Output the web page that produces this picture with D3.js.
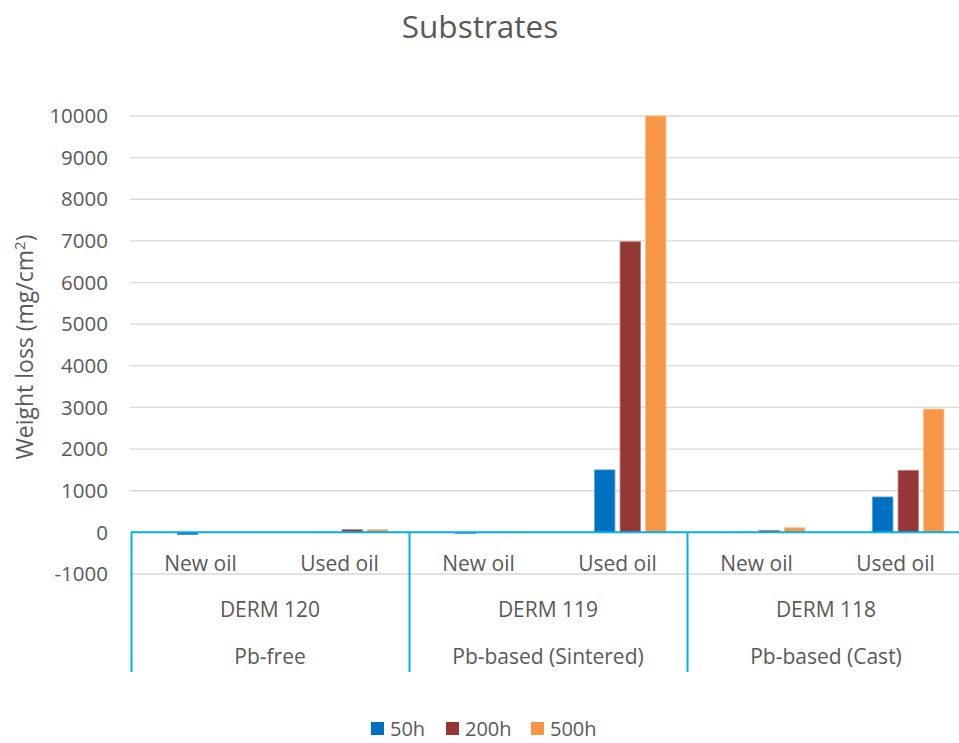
<!DOCTYPE html>
<html>
<head>
<meta charset="utf-8">
<script src="https://cdn.jsdelivr.net/npm/d3@7"></script>
<style>
  html, body { margin: 0; padding: 0; background: #fff; }
  svg { display: block; font-family: "Open Sans", "Segoe UI", sans-serif; }
</style>
</head>
<body>
<svg id="chart" width="959" height="743"></svg>
<script>
// Three-level category axis: material / sample / oil condition
const materials = ["Pb-free", "Pb-based (Sintered)", "Pb-based (Cast)"];
const samples = ["DERM 120", "DERM 119", "DERM 118"];
const oils = ["New oil", "Used oil"];

// Exposure series (weight loss, mg/cm²), one value per sample × oil
const seriesNames = ["50h", "200h", "500h"];
const values50h  = [-55, 5, -30, 1500, 5, 850];
const values200h = [5, 65, 5, 6980, 45, 1490];
const values500h = [5, 65, 25, 10000, 110, 2960];

const yTicks = [-1000, 0, 1000, 2000, 3000, 4000, 5000, 6000, 7000, 8000, 9000, 10000];
const colors = ["#0070C0", "#953735", "#F79646"];
const edgeColors = ["#5a9fd6", "#c07a78", "#fbc08c"];

const svg = d3.select("#chart");
const textColor = "#595959";
const axisBlue = "#00B0F0";

// flat leaf list of (sample, oil)
const leaves = [];
samples.forEach((s, i) => oils.forEach(o => leaves.push({ key: s + "|" + o, sample: s, oil: o, material: materials[i] })));

const seriesValues = [values50h, values200h, values500h];

const left = 131, right = 965;
const x0 = d3.scaleBand().domain(leaves.map(d => d.key)).range([left, right]);
const xGroup = d3.scaleBand().domain(samples).range([left, right]);
// cluster slots: an empty leading slot followed by the three series
const slots = ["_", ...seriesNames];
const cw = x0.bandwidth();
const x1 = d3.scaleBand().domain(slots).range([cw * 0.133, cw * 0.867]).paddingInner(0.2).paddingOuter(0.1);

const y = d3.scaleLinear().domain([-1000, 10000]).range([574, 116]);

// gridlines
svg.append("g").selectAll("line").data(yTicks).join("line")
  .attr("x1", left - 1).attr("x2", right)
  .attr("y1", d => y(d)).attr("y2", d => y(d))
  .attr("stroke", "#d9d9d9").attr("stroke-width", 1.3);

// y tick labels
svg.append("g").selectAll("text").data(yTicks).join("text")
  .attr("x", 108).attr("y", d => y(d)).attr("dy", "0.35em")
  .attr("text-anchor", "end").attr("fill", textColor)
  .attr("font-size", 20.5).text(d => d);

// bars
const barData = [];
seriesNames.forEach((name, si) => {
  leaves.forEach((leaf, li) => barData.push({ leaf, name, si, v: seriesValues[si][li] }));
});
svg.append("g").selectAll("rect").data(barData).join("rect")
  .attr("x", d => x0(d.leaf.key) + x1(d.name))
  .attr("width", x1.bandwidth())
  .attr("y", d => y(Math.max(0, d.v)))
  .attr("height", d => Math.abs(y(d.v) - y(0)))
  .attr("fill", d => colors[d.si])
  .attr("stroke", d => edgeColors[d.si]).attr("stroke-width", 0.8);

// category axis: baseline and separators
const axisG = svg.append("g").attr("stroke", axisBlue).attr("stroke-width", 2);
axisG.append("line").attr("x1", left).attr("x2", right).attr("y1", y(0)).attr("y2", y(0));
const sepXs = samples.map(s => xGroup(s));
axisG.selectAll("line.sep").data(sepXs).join("line").attr("class", "sep")
  .attr("x1", d => d + 0.5).attr("x2", d => d + 0.5)
  .attr("y1", y(0)).attr("y2", 672);

const catFont = 21;

// oil labels
svg.append("g").selectAll("text").data(leaves).join("text")
  .attr("x", d => x0(d.key) + cw / 2).attr("y", 571)
  .attr("text-anchor", "middle").attr("fill", textColor).attr("font-size", catFont)
  .text(d => d.oil);

// sample labels
svg.append("g").selectAll("text").data(samples).join("text")
  .attr("x", d => xGroup(d) + xGroup.bandwidth() / 2).attr("y", 617)
  .attr("text-anchor", "middle").attr("fill", textColor).attr("font-size", catFont)
  .text(d => d);

// material labels
svg.append("g").selectAll("text").data(materials).join("text")
  .attr("x", (d, i) => xGroup(samples[i]) + xGroup.bandwidth() / 2).attr("y", 664)
  .attr("text-anchor", "middle").attr("fill", textColor).attr("font-size", catFont)
  .text(d => d);

// title
svg.append("text").attr("x", 480).attr("y", 38)
  .attr("text-anchor", "middle").attr("fill", textColor).attr("font-size", 31.5)
  .text("Substrates");

// y axis title
const yt = svg.append("text")
  .attr("transform", "translate(33,347) rotate(-90)")
  .attr("text-anchor", "middle").attr("fill", textColor).attr("font-size", 23);
yt.append("tspan").text("Weight loss (mg/cm");
yt.append("tspan").attr("font-size", 15).attr("dy", -8).text("2");
yt.append("tspan").attr("dy", 8).text(")");

// legend
const legendItems = [
  { name: seriesNames[0], x: 371 },
  { name: seriesNames[1], x: 446 },
  { name: seriesNames[2], x: 531 }
];
const lg = svg.append("g");
lg.selectAll("rect").data(legendItems).join("rect")
  .attr("x", d => d.x).attr("y", 722).attr("width", 13).attr("height", 13)
  .attr("fill", (d, i) => colors[i]);
lg.selectAll("text").data(legendItems).join("text")
  .attr("x", d => d.x + 19).attr("y", 736)
  .attr("fill", textColor).attr("font-size", 20)
  .text(d => d.name);
</script>
</body>
</html>
